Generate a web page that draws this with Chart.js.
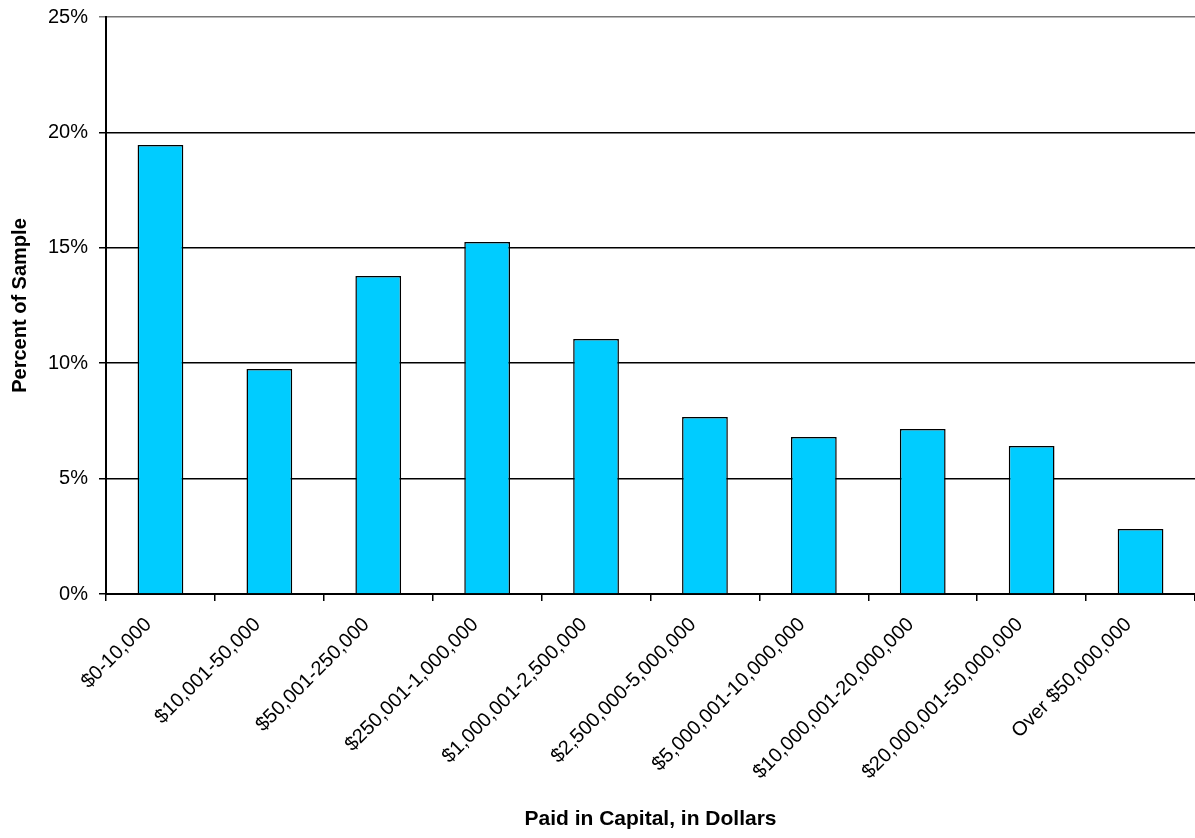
<!DOCTYPE html>
<html>
<head>
<meta charset="utf-8">
<script src="https://cdn.jsdelivr.net/npm/chart.js@4"></script>
<style>
  html, body { margin: 0; padding: 0; background: #fff; }
  #wrap { width: 1195px; height: 838px; }
</style>
</head>
<body>
<div id="wrap"><canvas id="chart" width="1195" height="838"></canvas></div>
<script>
const categories = [
  "$0-10,000", "$10,001-50,000", "$50,001-250,000", "$250,001-1,000,000",
  "$1,000,001-2,500,000", "$2,500,000-5,000,000", "$5,000,001-10,000,000",
  "$10,000,001-20,000,000", "$20,000,001-50,000,000", "Over $50,000,000"
];
const percentOfSample = [19.45, 9.75, 13.78, 15.25, 11.05, 7.67, 6.8, 7.15, 6.41, 2.82];
const yTicks = [0, 5, 10, 15, 20, 25];

const font = "'Liberation Sans', Arial, sans-serif";

new Chart(document.getElementById("chart"), {
  type: "bar",
  data: {
    labels: categories,
    datasets: [{
      data: percentOfSample,
      backgroundColor: "#00ccff",
      borderColor: "#000",
      borderWidth: 1.5,
      barPercentage: 0.42,
      categoryPercentage: 1
    }]
  },
  options: {
    responsive: false,
    animation: false,
    layout: { padding: { top: 17, right: 0, left: 0, bottom: 0 } },
    plugins: { legend: { display: false }, tooltip: { enabled: false } },
    scales: {
      x: {
        grid: { drawOnChartArea: false, tickLength: 7, color: "#000", lineWidth: 1.5 },
        border: { color: "#000", width: 2 },
        ticks: {
          color: "#000", font: { family: font, size: 20 },
          minRotation: 45, maxRotation: 45, autoSkip: false,
          padding: 12, labelOffset: -12
        },
        title: {
          display: true, text: "Paid in Capital, in Dollars", color: "#000",
          font: { family: font, size: 21, weight: "bold" }, padding: { top: 0, bottom: 6 }
        },
        afterFit: s => { s.height = 244; s.paddingLeft = 0; s.paddingRight = 0; }
      },
      y: {
        min: 0, max: 25,
        afterBuildTicks: s => { s.ticks = yTicks.map(v => ({ value: v })); },
        grid: {
          tickLength: 7, lineWidth: 1.5,
          color: c => c.tick && c.tick.value === 25 ? "#777" : "#000"
        },
        border: { color: "#000", width: 2 },
        ticks: {
          color: "#000", font: { family: font, size: 20 }, padding: 11,
          callback: v => v + "%"
        },
        title: {
          display: true, text: "Percent of Sample", color: "#000",
          font: { family: font, size: 20, weight: "bold" }, padding: { top: 8, bottom: 10 }
        },
        afterFit: s => { s.width = 106; s.paddingTop = 0; s.paddingBottom = 0; }
      }
    }
  }
});
</script>
</body>
</html>
